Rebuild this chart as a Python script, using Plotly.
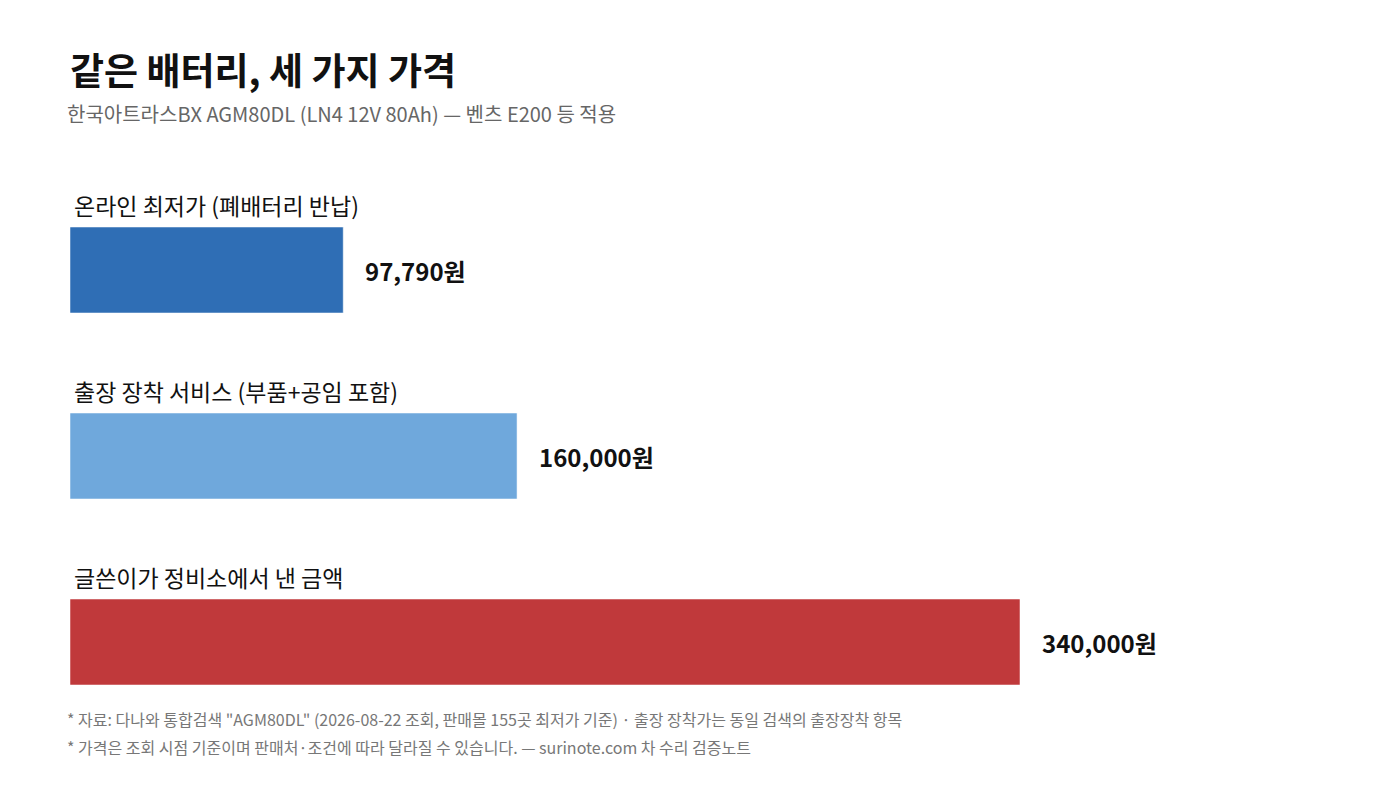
import plotly.graph_objects as go

categories = ["온라인 최저가 (폐배터리 반납)", "출장 장착 서비스 (부품+공임 포함)", "글쓴이가 정비소에서 낸 금액"]
prices = [97790, 160000, 340000]
value_labels = ["97,790원", "160,000원", "340,000원"]
colors = ["#2f6eb5", "#6fa8dc", "#c0393b"]

title = "같은 배터리, 세 가지 가격"
subtitle = "한국아트라스BX AGM80DL (LN4 12V 80Ah) — 벤츠 E200 등 적용"
notes = [
    "* 자료: 다나와 통합검색 \"AGM80DL\" (2026-08-22 조회, 판매몰 155곳 최저가 기준) · 출장 장착가는 동일 검색의 출장장착 항목",
    "* 가격은 조회 시점 기준이며 판매처·조건에 따라 달라질 수 있습니다. — surinote.com 차 수리 검증노트",
]

FONT = "Noto Sans CJK KR, Noto Sans, sans-serif"
BAR_W = 0.4624
ypos = list(range(len(categories)))

fig = go.Figure(go.Bar(
    x=prices, y=ypos, orientation="h", width=BAR_W,
    marker=dict(color=colors, line=dict(color="rgba(255,255,255,0.5)", width=1)),
    hoverinfo="skip",
))

ann = []
for i, (c, v, lab) in enumerate(zip(categories, prices, value_labels)):
    ann.append(dict(x=0, y=i - BAR_W / 2, xref="x", yref="y", text=c, showarrow=False,
                    xanchor="left", yanchor="bottom", xshift=2, yshift=3,
                    font=dict(family=FONT, size=23, color="#111")))
    ann.append(dict(x=v, y=i, xref="x", yref="y", text="<b>" + lab + "</b>", showarrow=False,
                    xanchor="left", yanchor="middle", xshift=20,
                    font=dict(family=FONT, size=24, color="#111")))

ann.append(dict(x=-0.0016, y=1.1927, xref="paper", yref="paper", text="<b>" + title + "</b>",
                showarrow=False, xanchor="left", yanchor="middle",
                font=dict(family=FONT, size=37, color="#111")))
ann.append(dict(x=-0.004, y=1.1138, xref="paper", yref="paper", text=subtitle,
                showarrow=False, xanchor="left", yanchor="middle",
                font=dict(family=FONT, size=20, color="#666")))
for k, (n, yy) in enumerate(zip(notes, [0.0278, -0.0224])):
    ann.append(dict(x=-0.004, y=yy, xref="paper", yref="paper", text=n,
                    showarrow=False, xanchor="left", yanchor="middle",
                    font=dict(family=FONT, size=16, color="#777")))

fig.update_layout(
    width=1400, height=800,
    margin=dict(l=62, r=78, t=169, b=73),
    paper_bgcolor="white", plot_bgcolor="white",
    showlegend=False,
    xaxis=dict(range=[0, 1260 * 340000 / 950], visible=False, fixedrange=True),
    yaxis=dict(range=[2.5, -0.5], visible=False, fixedrange=True),
    annotations=ann,
    font=dict(family=FONT),
)

fig.write_html("out.html")
